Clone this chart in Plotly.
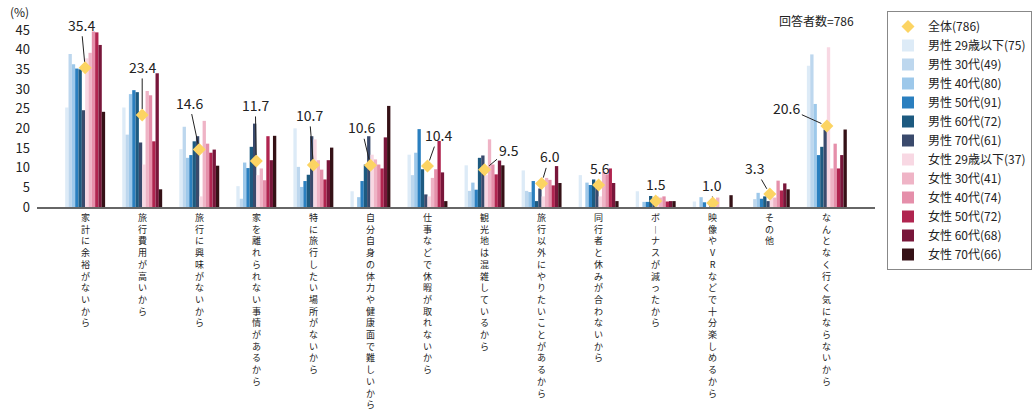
import plotly.graph_objects as go

categories = ["家計に余裕がないから", "旅行費用が高いから", "旅行に興味がないから",
              "家を離れられない事情があるから", "特に旅行したい場所がないから",
              "自分自身の体力や健康面で難しいから", "仕事などで休暇が取れないから",
              "観光地は混雑しているから", "旅行以外にやりたいことがあるから",
              "同行者と休みが合わないから", "ボーナスが減ったから",
              "映像やVRなどで十分楽しめるから", "その他", "なんとなく行く気にならないから"]

overall_name = "全体(786)"
overall = [35.4, 23.4, 14.6, 11.7, 10.7, 10.6, 10.4, 9.5, 6.0, 5.6, 1.5, 1.0, 3.3, 20.6]

seg_names = ["男性 29歳以下(75)", "男性 30代(49)", "男性 40代(80)", "男性 50代(91)",
             "男性 60代(72)", "男性 70代(61)", "女性 29歳以下(37)", "女性 30代(41)",
             "女性 40代(74)", "女性 50代(72)", "女性 60代(68)", "女性 70代(66)"]

m_u29 = [25.3, 25.3, 14.7, 5.3, 20.0, 4.0, 13.3, 10.6, 9.3, 8.1, 4.0, 1.4, 0.0, 35.9]
m_30s = [38.9, 18.4, 20.4, 2.1, 10.2, 0.0, 8.1, 4.1, 4.1, 0.0, 0.0, 0.0, 2.0, 38.8]
m_40s = [36.3, 28.7, 12.5, 11.3, 5.1, 2.5, 13.8, 6.2, 3.8, 6.2, 1.3, 2.5, 3.6, 26.2]
m_50s = [35.2, 29.7, 13.2, 9.9, 6.6, 6.6, 19.8, 4.4, 6.6, 5.6, 1.3, 1.2, 2.1, 13.2]
m_60s = [35.0, 29.2, 16.7, 15.3, 8.2, 10.8, 9.6, 12.5, 1.5, 7.0, 2.8, 0.0, 2.7, 15.3]
m_70s = [24.6, 16.4, 18.0, 21.2, 18.0, 18.0, 3.2, 13.1, 4.7, 4.9, 1.6, 1.6, 1.5, 19.7]
f_u29 = [37.8, 10.8, 2.7, 8.1, 17.2, 13.3, 2.7, 8.1, 2.7, 2.7, 2.7, 0.0, 2.7, 40.6]
f_30s = [39.2, 29.5, 21.9, 9.8, 11.9, 12.1, 7.4, 17.2, 7.4, 9.0, 2.4, 2.4, 2.4, 9.8]
f_40s = [44.6, 28.4, 16.1, 6.8, 9.5, 10.8, 9.6, 10.8, 6.9, 8.3, 2.7, 0.0, 6.7, 16.1]
f_50s = [44.4, 16.7, 13.8, 18.0, 7.0, 9.8, 16.8, 8.3, 5.5, 9.8, 1.4, 0.0, 4.2, 9.8]
f_60s = [41.2, 34.0, 14.6, 11.9, 11.9, 17.7, 8.8, 11.8, 10.4, 6.1, 1.5, 0.0, 6.0, 13.2]
f_70s = [24.2, 4.5, 10.5, 18.1, 15.1, 25.7, 1.5, 10.6, 6.1, 1.5, 1.5, 3.0, 4.5, 19.7]

y_ticks = [0, 5, 10, 15, 20, 25, 30, 35, 40, 45]
respondents_note = "回答者数=786"
unit_note = "(%)"

# ---- styling ----
seg_values = [m_u29, m_30s, m_40s, m_50s, m_60s, m_70s, f_u29, f_30s, f_40s, f_50s, f_60s, f_70s]
seg_colors = ["#DDEBF7", "#BDD7EE", "#9DC8EA", "#2A7FBF", "#1D5A80", "#3A4A6C",
              "#F8D8E3", "#EFB4C6", "#E58FAA", "#B0244F", "#78163A", "#351116"]
FONT = "Noto Sans CJK JP"
label_offsets = [(-4, -43), (0, -48), (-10, -47), (-1, -56), (-4, -50), (-9, -38), (11, -31),
                 (24, -20), (8, -27), (1, -17), (0, -17), (-1, -18), (-15, -26), (-40, -18)]

fig = go.Figure()
fig.add_trace(go.Scatter(x=categories, y=overall, mode="markers", name=overall_name,
                         marker=dict(symbol="diamond", size=10, color="#FCD463")))
for nm, vals, col in zip(seg_names, seg_values, seg_colors):
    fig.add_trace(go.Bar(x=categories, y=vals, name=nm, marker=dict(color=col, line=dict(width=0))))

annotations = []
for cat, v, (ax, ay) in zip(categories, overall, label_offsets):
    annotations.append(dict(x=cat, y=v, xref="x", yref="y", text=f"{v:.1f}", showarrow=True,
                            arrowhead=0, arrowwidth=1, arrowcolor="#222", ax=ax, ay=ay,
                            standoff=6, font=dict(size=14, color="#222", family=FONT)))

vert_map = {"ー": "︱"}
for cat in categories:
    vtext = "<br>".join(vert_map.get(ch, ch) for ch in cat)
    annotations.append(dict(x=cat, xref="x", y=0, yref="paper", yanchor="top", yshift=-3,
                            text=vtext, showarrow=False, borderpad=0,
                            font=dict(size=9, color="#222", family=FONT)))

annotations.append(dict(x=-0.0203, y=1.1017, xref="paper", yref="paper", xanchor="center",
                        yanchor="middle", text=unit_note, showarrow=False,
                        font=dict(size=12, family=FONT)))
annotations.append(dict(x=0.977, y=1.054, xref="paper", yref="paper", xanchor="right",
                        yanchor="middle", text=respondents_note, showarrow=False,
                        font=dict(size=12, family=FONT)))

fig.update_layout(
    width=1035, height=414,
    margin=dict(l=37, r=160, t=30, b=207, autoexpand=False),
    paper_bgcolor="white", plot_bgcolor="white",
    font=dict(family=FONT, color="#222", size=13),
    barmode="group", bargap=0.3, bargroupgap=0,
    showlegend=True,
    legend=dict(x=887 / 1035, y=1 - 11 / 414, xref="container", yref="container",
                xanchor="left", yanchor="top", bordercolor="#888",
                borderwidth=1, bgcolor="white", font=dict(size=12, family=FONT),
                tracegroupgap=0, itemwidth=30, maxheight=320),
    xaxis=dict(type="category", showticklabels=False, showline=True, linecolor="#666",
               linewidth=1.5, ticks="", showgrid=False, zeroline=False),
    yaxis=dict(range=[0, 45], tickvals=y_ticks, showline=False, showgrid=False,
               zeroline=False, ticks="", ticklabelstandoff=6,
               tickfont=dict(size=13, family=FONT)),
    annotations=annotations,
)

fig.write_html("out.html")
